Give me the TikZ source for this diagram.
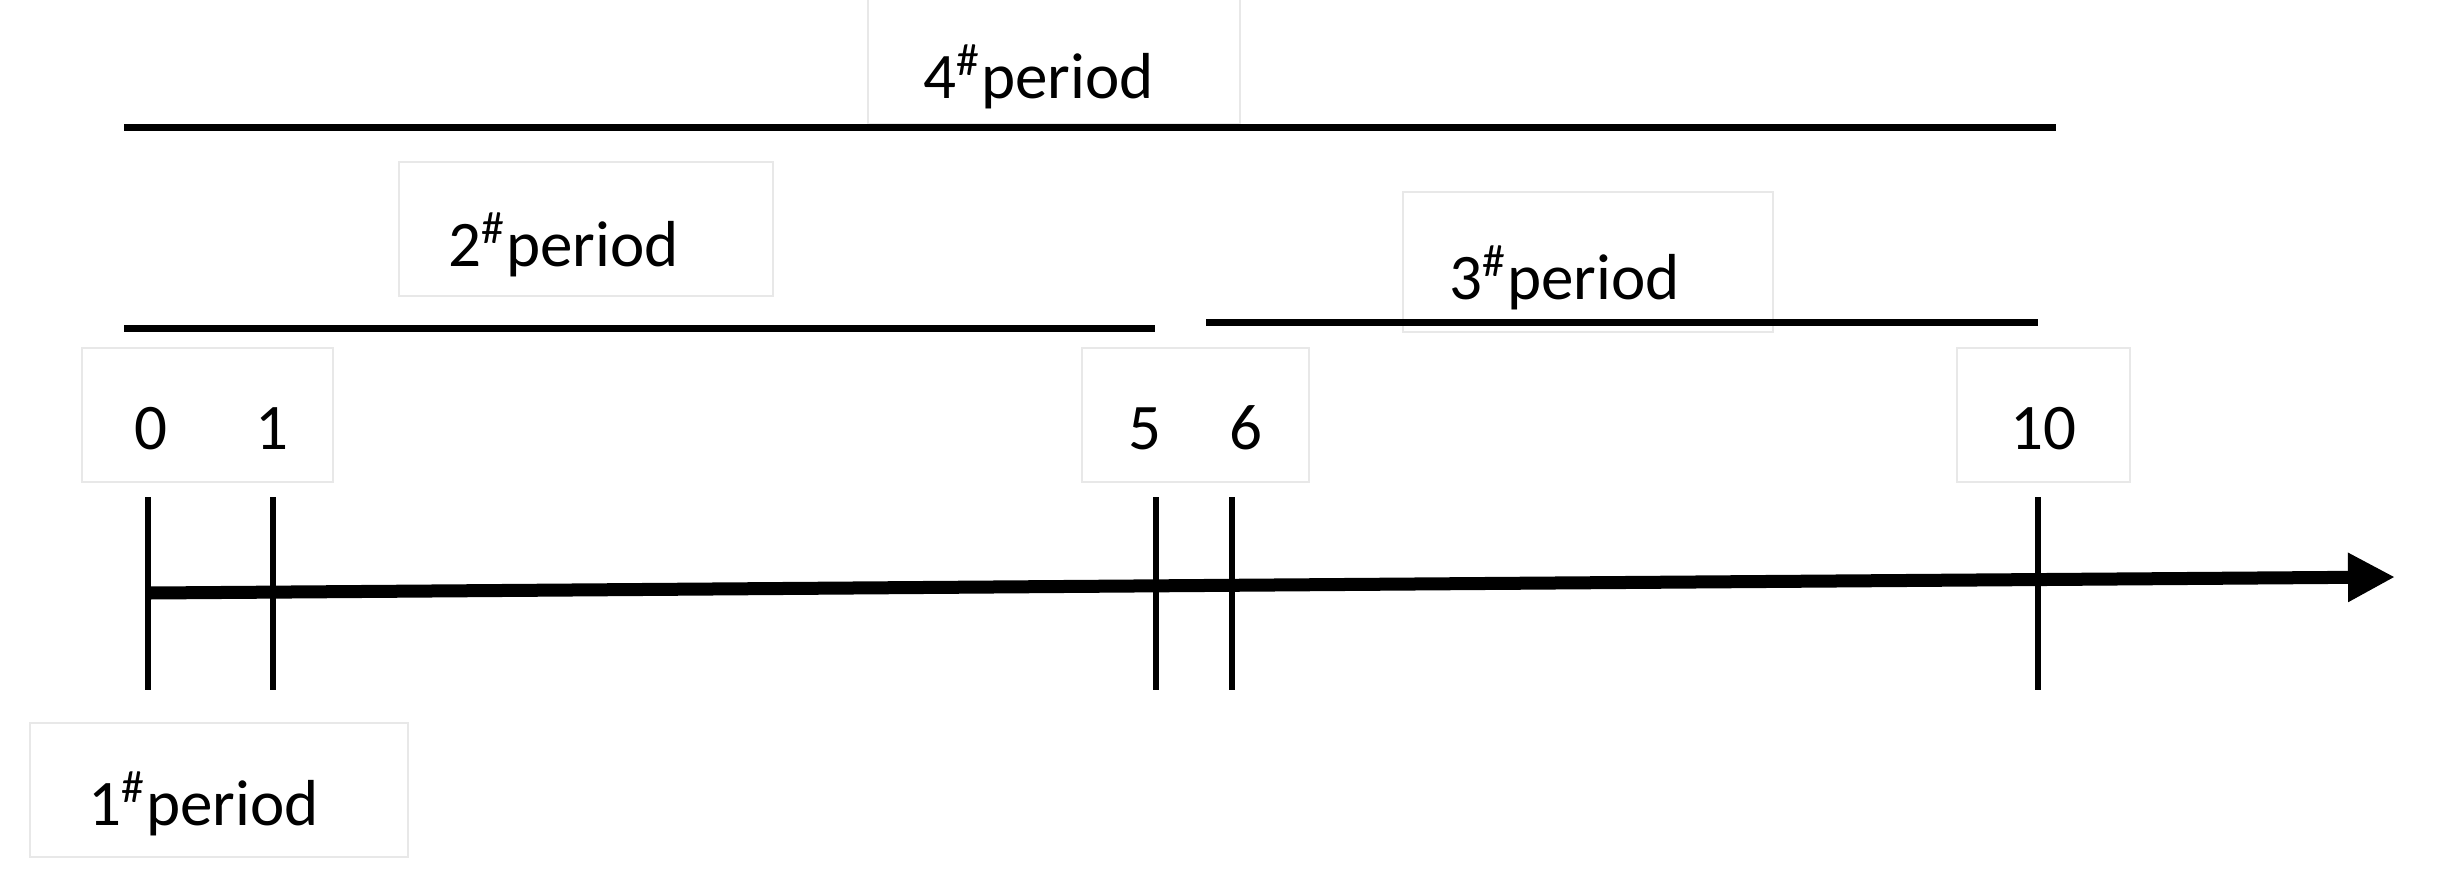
\documentclass[tikz,border=0pt]{standalone}
\usepackage{fontspec}
\setmainfont{Carlito}
\usetikzlibrary{arrows.meta}

\begin{document}
\begin{tikzpicture}[x=1mm,y=-1mm,
  lbl/.style={font=\fontsize{18.5}{22}\selectfont,inner sep=0pt},
  textframe/.style={draw=black!9,line width=0.4pt},
  periodline/.style={line width=2pt},
  tickline/.style={line width=1.7pt},
  axisline/.style={line width=3.7pt,-{Triangle[length=4.7mm,width=4.6mm]}}]
  \useasboundingbox (0,0) rectangle (243.7,89.1);

  % Faint text frames
  \foreach \a/\b/\c/\d in {86.8/-0.5/124/12.4, 39.9/16.2/77.3/29.6,
      140.3/19.2/177.3/33.2, 8.2/34.8/33.3/48.2, 108.2/34.8/130.9/48.2,
      195.7/34.8/213/48.2, 3/72.3/40.8/85.7}
    \draw[textframe] (\a,\b) rectangle (\c,\d);

  % Period spans
  \draw[periodline] (12.4,12.7) -- (205.6,12.7);
  \draw[periodline] (12.4,32.8) -- (115.5,32.8);
  \draw[periodline] (120.6,32.2) -- (203.8,32.2);

  % Period labels
  \node[lbl,anchor=base west] (p4) at (92.3,9.8) {4\textsuperscript{\#}period};
  \node[lbl,anchor=base west] (p2) at (44.8,26.6) {2\textsuperscript{\#}period};
  \node[lbl,anchor=base west] (p3) at (144.9,29.9) {3\textsuperscript{\#}period};
  \node[lbl,anchor=base west] (p1) at (8.8,82.5) {1\textsuperscript{\#}period};

  % Time axis
  \coordinate (a0) at (14.8,59.3);
  \coordinate (a1) at (239.5,57.7);
  \draw[axisline] (a0) -- (a1);

  % Ticks and numbers
  \foreach \n/\x in {0/14.8,1/27.3,5/115.6,6/123.2,10/203.8} {
    \coordinate (t\n) at (\x,49.7);
    \draw[tickline] (t\n) -- ++(0,19.3);
  }
  \foreach \n/\x in {0/15.1,1/27.2,5/114.5,6/124.6,10/204.3}
    \node[lbl,anchor=base] (n\n) at (\x,44.9) {\n};
\end{tikzpicture}
\end{document}
